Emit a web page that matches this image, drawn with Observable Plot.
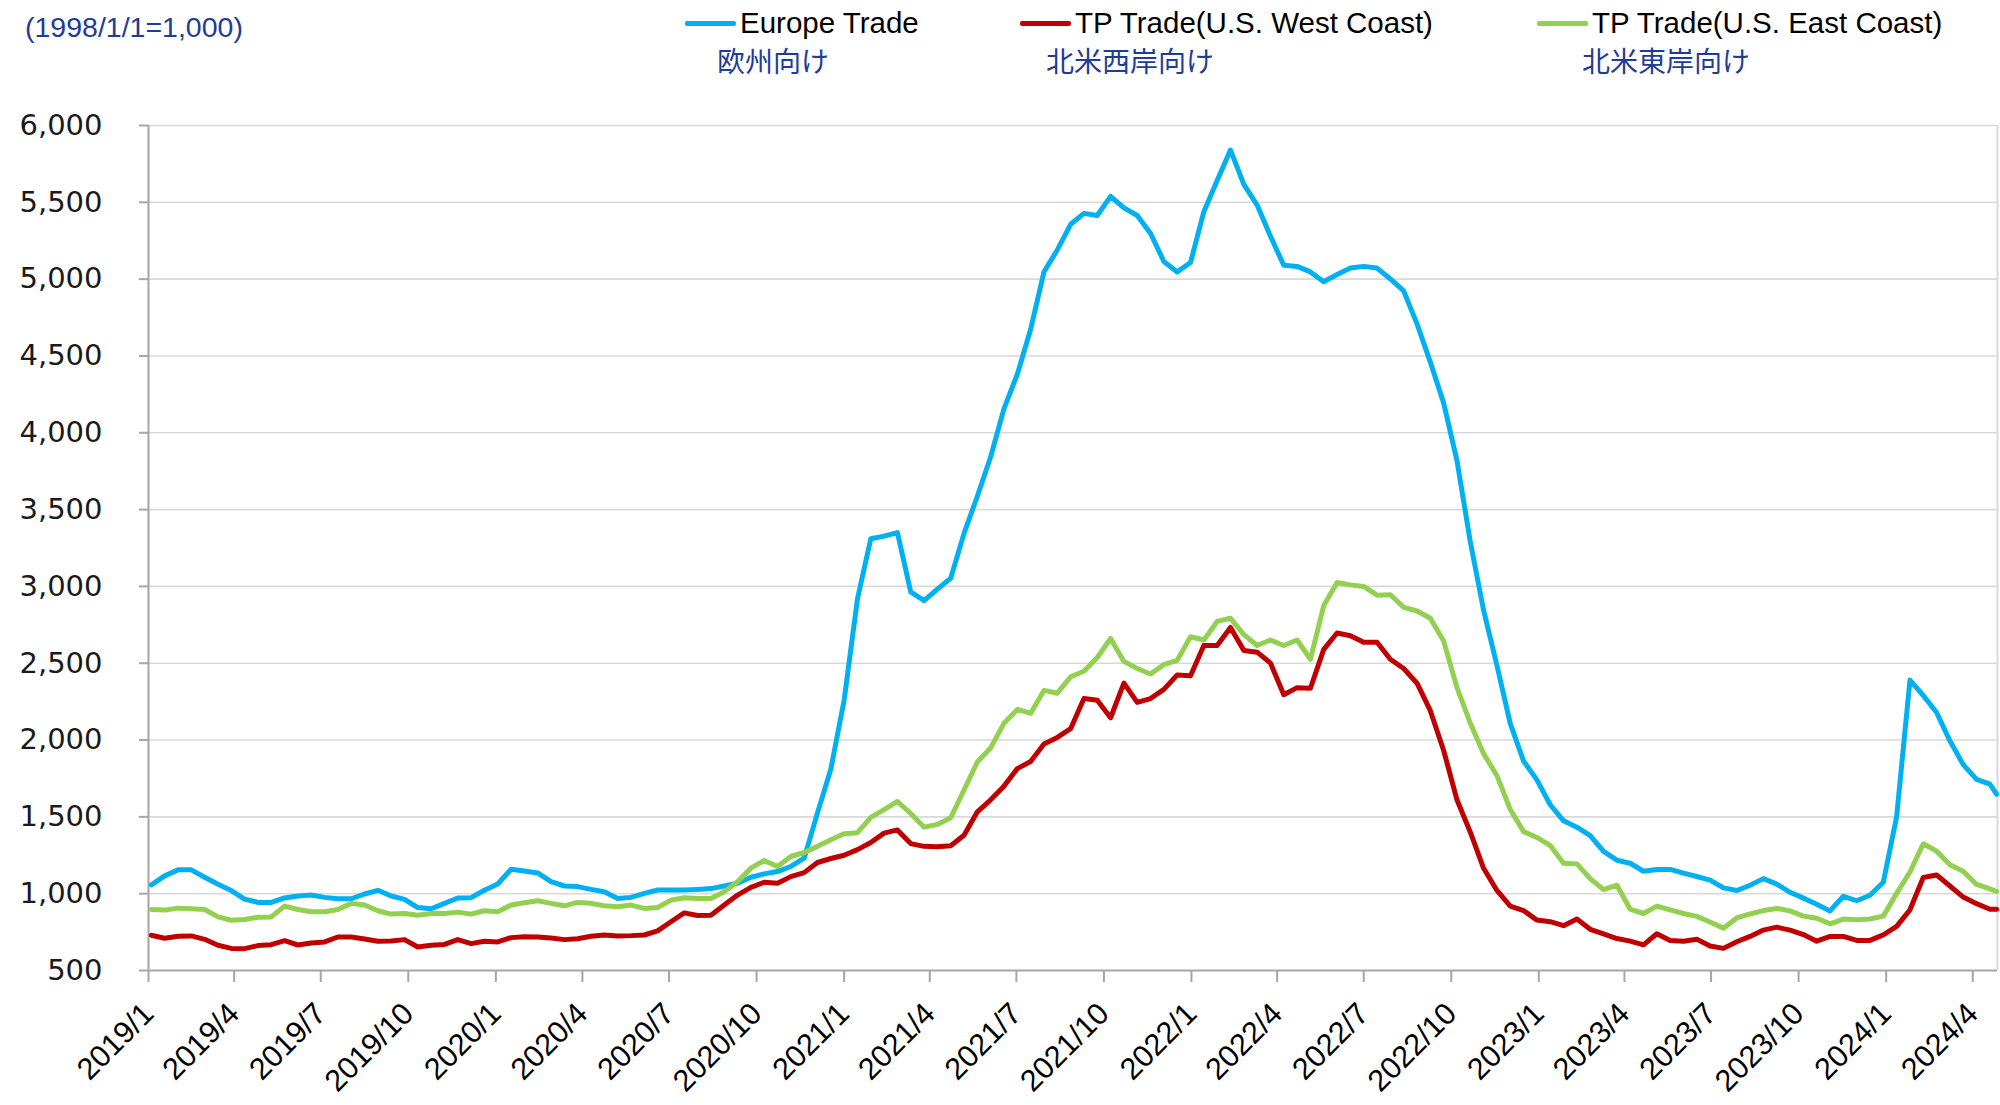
<!DOCTYPE html>
<html>
<head>
<meta charset="utf-8">
<script src="https://cdn.jsdelivr.net/npm/d3@7"></script>
<script src="https://cdn.jsdelivr.net/npm/@observablehq/plot@0.6"></script>
<style>
  html, body { margin: 0; padding: 0; background: #fff; }
  #wrap { position: relative; width: 2000px; height: 1105px; background: #fff; overflow: hidden; }
  .unit { position: absolute; left: 25px; top: 11px; font-family: "Liberation Sans", Arial, sans-serif; font-size: 28.5px; color: #1f3c96; white-space: nowrap; }
  .lg { position: absolute; top: 5px; font-family: "Liberation Sans", Arial, sans-serif; font-size: 29.5px; color: #000; white-space: nowrap; line-height: 36px; }
  .sw { position: absolute; top: 21px; height: 5px; width: 51px; border-radius: 2px; }
  .jp { position: absolute; top: 42px; font-family: "Noto Sans CJK JP", sans-serif; font-size: 28px; color: #1f3c96; white-space: nowrap; line-height: 36px; }
  #chart { position: absolute; left: 0; top: 100px; }
  #chart svg [aria-label="y-axis tick"] path, #chart svg [aria-label="x-axis tick"] path { stroke: #a6a6a6; stroke-width: 2; }
</style>
</head>
<body>
<div id="wrap">
  <div class="unit">(1998/1/1=1,000)</div>
  <div id="legend"></div>
  <div id="chart"></div>
</div>
<script>
// ---- Data (index 1998/1/1 = 1,000), bi-weekly readings from 2019-01-04, last point 2024-04-26 ----
const seriesNames = ["Europe Trade", "TP Trade(U.S. West Coast)", "TP Trade(U.S. East Coast)"];
const seriesNamesJa = ["欧州向け", "北米西岸向け", "北米東岸向け"];
const seriesColors = ["#00b0f0", "#c00000", "#92d050"];

const europe = [
  1057,1116,1155,1155,1107,1061,1020,965,943,943,972,985,991,976,967,967,998,1022,985,963,
  910,902,937,972,974,1022,1063,1159,1148,1135,1078,1050,1046,1028,1013,969,976,1002,1024,1024,
  1024,1028,1033,1050,1068,1107,1129,1144,1177,1231,1526,1810,2260,
  2918,3310,3327,3350,2964,2907,2982,3053,3345,3587,3844,4157,4381,4674,5047,5190,5357,5428,5414,5539,
  5464,5414,5297,5115,5047,5108,5439,5642,5840,5617,5482,5279,5090,5083,5047,4983,5030,5072,5083,5072,
  5001,4923,4709,4460,4193,3819,3290,
  2844,2485,2107,1863,1741,1579,1474,1433,1378,1275,1218,1198,1146,1158,1158,1134,1112,1088,1038,1021,
  1055,1098,1062,1009,971,931,888,983,954,990,1074,1500,2390,2290,2179,1995,1840,1744,1713,
  1648
];
const westCoast = [
  729,710,723,725,703,664,644,642,662,668,694,666,679,686,718,718,705,690,692,701,
  653,664,670,701,675,690,686,714,720,718,712,701,707,723,731,725,727,731,758,817,
  875,858,860,926,991,1041,1074,1068,1111,1137,1203,1229,1250,
  1287,1333,1394,1415,1326,1308,1305,1312,1380,1533,1611,1700,1814,1860,1974,2017,2074,2270,2259,2145,
  2370,2245,2270,2330,2423,2419,2615,2615,2733,2583,2572,2501,2295,2341,2337,2590,2697,2679,2637,2637,
  2526,2466,2370,2191,1932,1611,1400,
  1165,1021,919,890,828,818,792,835,768,739,708,691,667,739,696,691,703,660,644,687,
  722,763,782,763,734,691,722,722,696,696,732,787,895,1105,1122,1050,978,935,899,
  899
];
const eastCoast = [
  897,893,906,902,897,849,827,832,847,849,919,897,882,882,897,937,926,889,867,871,
  860,871,871,880,867,889,882,926,941,954,937,921,943,937,921,915,926,904,910,958,
  974,969,969,1013,1078,1166,1216,1177,1242,1268,1308,1351,1390,
  1397,1497,1547,1600,1522,1433,1451,1494,1675,1857,1949,2110,2199,2174,2323,2305,2412,2448,2537,2661,
  2512,2466,2430,2491,2519,2672,2651,2772,2793,2686,2615,2651,2615,2651,2526,2875,3025,3010,3000,2943,
  2946,2864,2840,2793,2644,2341,2110,
  1911,1768,1548,1404,1366,1313,1198,1194,1098,1026,1055,899,871,919,895,871,852,816,775,842,
  868,890,904,888,854,840,804,835,830,835,854,1002,1141,1325,1277,1189,1146,1060,1031,
  1014
];
const firstDate = "2019-01-04";
const lastDate = "2024-04-26";
const stepDays = 14;
const yTicks = [500,1000,1500,2000,2500,3000,3500,4000,4500,5000,5500,6000];
const axisStart = "2019-01-01";
const axisEnd = "2024-04-27";

// ---- Build table ----
const t0 = new Date(firstDate + "T00:00:00Z");
const dates = europe.map((_, i) => i === europe.length - 1
  ? new Date(lastDate + "T00:00:00Z")
  : d3.utcDay.offset(t0, stepDays * i));
const allSeries = [europe, westCoast, eastCoast];
const rows = [];
allSeries.forEach((vals, s) => vals.forEach((v, i) => rows.push({date: dates[i], value: v, series: seriesNames[s]})));

const xStart = new Date(axisStart + "T00:00:00Z");
const xEnd = new Date(axisEnd + "T00:00:00Z");
const xTicks = d3.utcMonth.every(3).range(xStart, new Date("2024-04-02T00:00:00Z"));

// ---- Legend (HTML above the SVG) ----
const legendPos = [
  {sw: 685, tx: 740, jp: 717},
  {sw: 1020, tx: 1075, jp: 1046},
  {sw: 1537, tx: 1592, jp: 1582}
];
const lg = document.getElementById("legend");
seriesNames.forEach((name, i) => {
  const p = legendPos[i];
  lg.insertAdjacentHTML("beforeend",
    `<div class="sw" style="left:${p.sw}px;background:${seriesColors[i]}"></div>` +
    `<div class="lg" style="left:${p.tx}px">${name}</div>` +
    `<div class="jp" style="left:${p.jp}px">${seriesNamesJa[i]}</div>`);
});

// ---- Chart ----
const chart = Plot.plot({
  width: 2000,
  height: 1005,
  marginTop: 25,
  marginBottom: 135,
  marginLeft: 148,
  marginRight: 3,
  style: {background: "#fff", overflow: "visible"},
  x: {type: "utc", domain: [xStart, xEnd]},
  y: {domain: [500, 6000]},
  color: {domain: seriesNames, range: seriesColors},
  marks: [
    Plot.ruleY(yTicks.filter(d => d > 500), {stroke: "#d9d9d9", strokeWidth: 1.6}),
    Plot.ruleX([xEnd], {stroke: "#d9d9d9", strokeWidth: 2}),
    Plot.axisY({
      ticks: yTicks, tickFormat: d3.format(","), tickSize: 9, tickPadding: 37,
      fontSize: 29, fontFamily: "DejaVu Sans", fill: "#1a1a1a", label: null
    }),
    Plot.axisX({
      ticks: xTicks, tickFormat: d => `${d.getUTCFullYear()}/${d.getUTCMonth() + 1}`,
      tickSize: 12, tickPadding: 26, tickRotate: -45,
      fontSize: 30.5, fontFamily: "Liberation Sans", fill: "#000", label: null
    }),
    Plot.ruleX([xStart], {stroke: "#a6a6a6", strokeWidth: 2}),
    Plot.ruleY([500], {stroke: "#a6a6a6", strokeWidth: 2}),
    Plot.line(rows, {x: "date", y: "value", z: "series", stroke: "series", strokeWidth: 5, strokeLinejoin: "round", strokeLinecap: "round"})
  ]
});
document.getElementById("chart").appendChild(chart);
</script>
</body>
</html>
